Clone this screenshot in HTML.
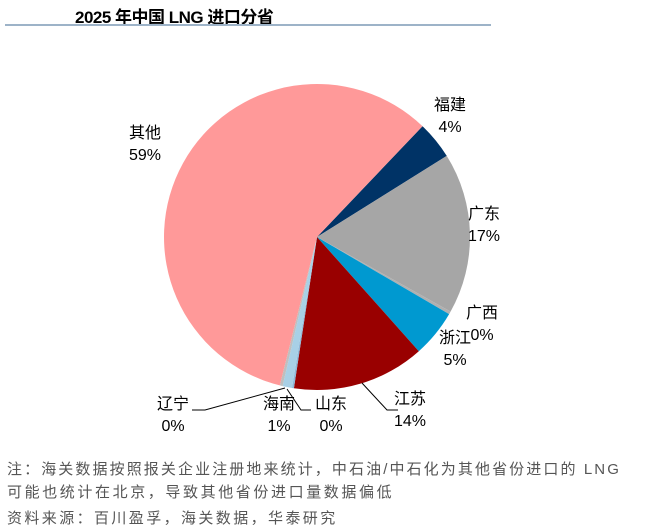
<!DOCTYPE html>
<html><head><meta charset="utf-8"><style>
body{margin:0;background:#fff;width:659px;height:527px;overflow:hidden;font-family:"Liberation Sans","Noto Sans CJK SC",sans-serif;}
.t{position:absolute;white-space:nowrap;}
</style></head><body>
<div class="t" style="left:75px;top:3px;font-size:17px;font-weight:bold;color:#000;letter-spacing:-0.5px;">2025 年中国 LNG 进口分省</div>
<div style="position:absolute;left:5px;top:24px;width:486px;height:2px;background:#9db3c8;"></div>
<svg id="chart" width="659" height="527" style="position:absolute;left:0;top:0" xmlns="http://www.w3.org/2000/svg"></svg>
<div class="t" style="left:7px;top:458px;font-size:15px;color:#555;letter-spacing:2.1px;">注：海关数据按照报关企业注册地来统计，中石油/中石化为其他省份进口的 LNG</div>
<div class="t" style="left:7px;top:481px;font-size:15px;color:#555;letter-spacing:2.6px;">可能也统计在北京，导致其他省份进口量数据偏低</div>
<div class="t" style="left:7px;top:507px;font-size:15px;color:#555;letter-spacing:2.4px;">资料来源：百川盈孚，海关数据，华泰研究</div>
<script>
const categories=["福建","广东","广西","浙江","江苏","山东","海南","辽宁","其他"];
const values=[4,17,0.3,5,14,0.2,1,0.3,58.2];
const printed=["4%","17%","0%","5%","14%","0%","1%","0%","59%"];
const colors=["#003366","#A6A6A6","#B0B0B0","#0099D0","#990000","#8FB8D8","#A8D0E6","#BFBFBF","#FF9999"];
const labelPos=[[450,110],[484,219],[482,318],[455,343],[410,404],[331,409],[279,409],[173,409],[145,138]];
const cx=317,cy=237,r=153,startDeg=43.6;
const svg=document.getElementById('chart');
const NS="http://www.w3.org/2000/svg";
const total=values.reduce((a,b)=>a+b,0);
function pt(deg,rr){const a=deg*Math.PI/180;return [cx+rr*Math.sin(a),cy-rr*Math.cos(a)];}
let ang=startDeg;
values.forEach((v,i)=>{
  const sweep=v/total*360;
  const p0=pt(ang,r),p1=pt(ang+sweep,r);
  const path=document.createElementNS(NS,'path');
  path.setAttribute('d',`M${cx},${cy}L${p0[0]},${p0[1]}A${r},${r} 0 ${sweep>180?1:0} 1 ${p1[0]},${p1[1]}Z`);
  path.setAttribute('fill',colors[i]);
  
  
  svg.appendChild(path);
  ang+=sweep;
});
const leaders=[[[285,388],[205,410],[192,410]],[[287,389],[301,410],[311,410]],[[362,383],[387,410],[398,410]]];
leaders.forEach((l,i)=>{
  const pl=document.createElementNS(NS,'polyline');
  pl.setAttribute('points',l.map(p=>p.join(',')).join(' '));
  pl.setAttribute('fill','none');pl.setAttribute('stroke','#000');pl.setAttribute('stroke-width','1');
  
  
  svg.appendChild(pl);
});
categories.forEach((c,i)=>{
  const [x,y]=labelPos[i];
  const t=document.createElementNS(NS,'text');
  t.setAttribute('x',x);t.setAttribute('y',y);t.setAttribute('text-anchor','middle');
  t.setAttribute('font-size','16');t.setAttribute('fill','#000');
  t.setAttribute('font-family','"Liberation Sans","Noto Sans CJK SC",sans-serif');
  
  
  const s1=document.createElementNS(NS,'tspan');s1.setAttribute('x',x);s1.setAttribute('dy','0');s1.textContent=c;
  const s2=document.createElementNS(NS,'tspan');s2.setAttribute('x',x);s2.setAttribute('dy','22');s2.textContent=printed[i];
  t.appendChild(s1);t.appendChild(s2);svg.appendChild(t);
});
</script>
</body></html>
